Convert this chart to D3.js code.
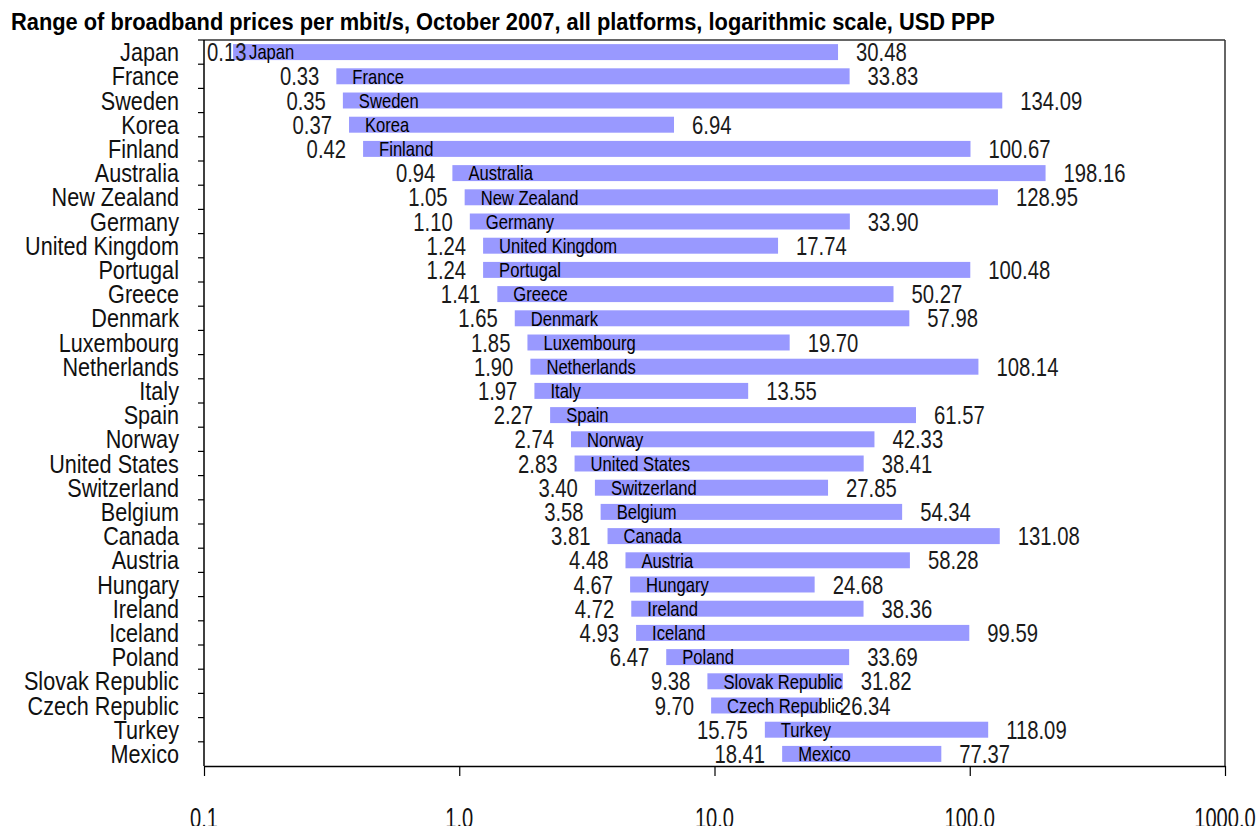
<!DOCTYPE html>
<html><head><meta charset="utf-8">
<script src="https://cdn.jsdelivr.net/npm/d3@7"></script>
<style>body{margin:0;background:#fff}svg{display:block}text{font-family:"Liberation Sans",Arial,sans-serif}</style>
</head><body><svg id="c" width="1259" height="826"></svg>
<script>
const categories=["Japan","France","Sweden","Korea","Finland","Australia","New Zealand","Germany","United Kingdom","Portugal","Greece","Denmark","Luxembourg","Netherlands","Italy","Spain","Norway","United States","Switzerland","Belgium","Canada","Austria","Hungary","Ireland","Iceland","Poland","Slovak Republic","Czech Republic","Turkey","Mexico"];
const minPrice=[0.13,0.33,0.35,0.37,0.42,0.94,1.05,1.10,1.24,1.24,1.41,1.65,1.85,1.90,1.97,2.27,2.74,2.83,3.40,3.58,3.81,4.48,4.67,4.72,4.93,6.47,9.38,9.70,15.75,18.41];
const maxPrice=[30.48,33.83,134.09,6.94,100.67,198.16,128.95,33.90,17.74,100.48,50.27,57.98,19.70,108.14,13.55,61.57,42.33,38.41,27.85,54.34,131.08,58.28,24.68,38.36,99.59,33.69,31.82,26.34,118.09,77.37];
const xTicks=[0.1,1,10,100,1000];
const title="Range of broadband prices per mbit/s, October 2007, all platforms, logarithmic scale, USD PPP";

const svg=d3.select("#c");
const L=204,R=1225,T=40,B=766;
const x=d3.scaleLog().domain([0.1,1000]).range([L,R]);
const y=d3.scaleBand().domain(categories).range([T,B]).paddingInner(0.34).paddingOuter(0.17);
const step=y.step();
const data=categories.map((c,i)=>({c,lo:minPrice[i],hi:maxPrice[i]}));
const fmt=d3.format(".2f");

function ctext(g,x0,y0,str,size,factor,anchor,weight,fill,minLeft){
  const t=g.append("text").attr("font-size",size).attr("font-weight",weight||"normal")
    .attr("fill",fill||"#000").text(str);
  const w=t.node().getComputedTextLength()*factor;
  let left=anchor==="end"?x0-w:anchor==="middle"?x0-w/2:x0;
  if(minLeft!==undefined) left=Math.max(left,minLeft);
  t.attr("transform",`translate(${left},${y0}) scale(${factor},1)`);
  return t;
}

// title
(function(){
  const t=svg.append("text").attr("font-size",24).attr("font-weight","bold").text(title);
  const w=t.node().getComputedTextLength();
  t.attr("transform",`translate(11,30) scale(${984/w},1)`);
})();

// bars
svg.append("g").selectAll("rect").data(data).join("rect")
  .attr("x",d=>x(d.lo)).attr("width",d=>x(d.hi)-x(d.lo))
  .attr("y",d=>y(d.c)).attr("height",y.bandwidth())
  .attr("fill","#9999ff");

// frame
svg.append("line").attr("x1",L).attr("x2",R).attr("y1",T).attr("y2",T).attr("stroke","#333").attr("stroke-width",1.5);
svg.append("line").attr("x1",R).attr("x2",R).attr("y1",T).attr("y2",B).attr("stroke","#333").attr("stroke-width",1.5);

// y axis
const ya=svg.append("g");
ya.append("line").attr("x1",L).attr("x2",L).attr("y1",T).attr("y2",B).attr("stroke","#000").attr("stroke-width",1.5);
ya.selectAll("line.tk").data(categories).join("line").attr("class","tk")
  .attr("x1",L-6).attr("x2",L)
  .attr("y1",d=>y(d)-step*0.17).attr("y2",d=>y(d)-step*0.17)
  .attr("stroke","#000").attr("stroke-width",1.2);
categories.forEach(c=>{
  ctext(ya,179,y(c)+y.bandwidth()/2+9,c,25,0.865,"end","normal","#111");
});

// x axis
const xa=svg.append("g").attr("transform",`translate(0,${B})`)
  .call(d3.axisBottom(x).tickValues(xTicks).tickSize(10).tickSizeOuter(0).tickFormat(""));
xa.select(".domain").attr("stroke","#000").attr("stroke-width",1.5);
xa.selectAll(".tick line").attr("stroke","#000").attr("stroke-width",1.2);
xTicks.forEach(v=>{
  ctext(svg,x(v),828,d3.format(".1f")(v),30,0.67,"middle","normal","#111");
});

// labels
const lg=svg.append("g");
data.forEach(d=>{
  const cy=y(d.c)+y.bandwidth()/2;
  ctext(lg,x(d.lo)+16,cy+7.3,d.c,20,0.83,"start","normal","#000");
});
data.forEach(d=>{
  const cy=y(d.c)+y.bandwidth()/2;
  ctext(lg,x(d.lo)-17,cy+9,fmt(d.lo),26,0.78,"end","normal","#1a1a1a",L+3);
  ctext(lg,x(d.hi)+18,cy+9,fmt(d.hi),26,0.78,"start","normal","#1a1a1a");
});
</script></body></html>
